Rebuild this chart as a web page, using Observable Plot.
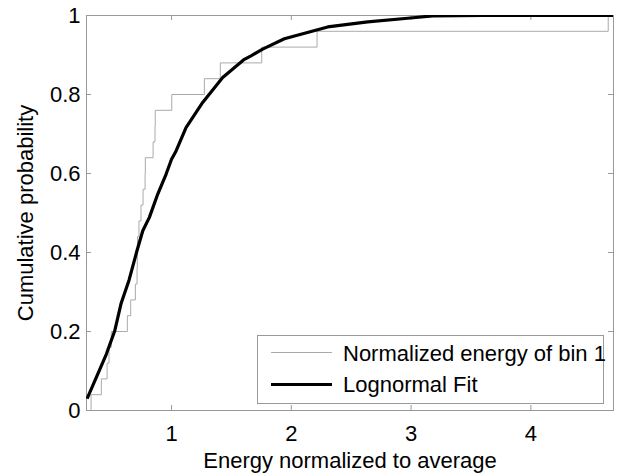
<!DOCTYPE html>
<html>
<head>
<meta charset="utf-8">
<script src="https://cdn.jsdelivr.net/npm/d3@7"></script>
<script src="https://cdn.jsdelivr.net/npm/@observablehq/plot@0.6"></script>
<style>
  html, body { margin: 0; padding: 0; background: #fff; }
  #chart svg { display: block; }
</style>
</head>
<body>
<div id="chart"></div>
<script>
// Normalized energy samples of bin 1 (sorted)
const energyBin1 = [0.328, 0.414, 0.462, 0.478, 0.497, 0.631, 0.659, 0.698, 0.712, 0.714,
                    0.716, 0.728, 0.745, 0.762, 0.779, 0.781, 0.846, 0.862, 0.864, 1.002,
                    1.274, 1.407, 1.753, 2.215, 4.646];

// Lognormal fit CDF, sampled
const fitEnergy = [0.295, 0.372, 0.456, 0.526, 0.578, 0.645, 0.712, 0.760, 0.815, 0.885,
                   0.954, 1.000, 1.038, 1.121, 1.260, 1.427, 1.608, 1.664, 1.761, 1.942,
                   2.304, 2.638, 2.972, 3.180, 3.610, 4.690];
const fitProb   = [0.030, 0.084, 0.143, 0.202, 0.270, 0.330, 0.405, 0.455, 0.489, 0.548,
                   0.598, 0.636, 0.657, 0.716, 0.780, 0.843, 0.889, 0.898, 0.915, 0.941,
                   0.971, 0.984, 0.993, 0.999, 1.000, 1.000];

const xDomain = [0.29, 4.69];
const xTicks = [1, 2, 3, 4];
const xTickLabels = ["1", "2", "3", "4"];
const yTicks = [0, 0.2, 0.4, 0.6, 0.8, 1];
const yTickLabels = ["0", "0.2", "0.4", "0.6", "0.8", "1"];

const seriesNames = ["Normalized energy of bin 1", "Lognormal Fit"];
const xLabel = "Energy normalized to average";
const yLabel = "Cumulative probability";

// Empirical CDF as step-after points
const n = energyBin1.length;
const ecdf = [{x: xDomain[0], y: 0}]
  .concat(energyBin1.map((v, i) => ({x: v, y: (i + 1) / n})))
  .concat([{x: xDomain[1], y: 1}]);
const fit = fitEnergy.map((v, i) => ({x: v, y: fitProb[i]}));

const W = 623, H = 474;
const mL = 86, mR = 10, mT = 15, mB = 64;
const frameW = W - mL - mR, frameH = H - mT - mB;
const tick = 5;
const axisColor = "#999";
const font = "'Liberation Sans', Arial, Helvetica, sans-serif";

const chart = Plot.plot({
  width: W,
  height: H,
  marginLeft: mL, marginRight: mR, marginTop: mT, marginBottom: mB,
  style: {fontFamily: font, fontSize: "22px", color: "#000", background: "#fff"},
  x: {domain: xDomain},
  y: {domain: [0, 1]},
  marks: [
    Plot.frame({stroke: axisColor}),
    // inward ticks on all four sides
    Plot.tickX(xTicks, {x: d => d, stroke: axisColor, insetTop: frameH - tick}),
    Plot.tickX(xTicks, {x: d => d, stroke: axisColor, insetBottom: frameH - tick}),
    Plot.tickY(yTicks, {y: d => d, stroke: axisColor, insetRight: frameW - tick}),
    Plot.tickY(yTicks, {y: d => d, stroke: axisColor, insetLeft: frameW - tick}),
    Plot.axisX(xTicks, {tickSize: 0, tickPadding: 15, fontSize: 22, label: null, fill: "#000",
                        tickFormat: (d, i) => xTickLabels[i]}),
    Plot.axisY(yTicks, {tickSize: 0, tickPadding: 6, fontSize: 22, label: null, fill: "#000",
                        tickFormat: (d, i) => yTickLabels[i]}),
    Plot.line(ecdf, {x: "x", y: "y", curve: "step-after", stroke: "#aaa", strokeWidth: 1, clip: true}),
    Plot.line(fit, {x: "x", y: "y", stroke: "#000", strokeWidth: 3.2, clip: true,
                    strokeLinejoin: "round", strokeLinecap: "butt"}),
    Plot.text([xLabel], {frameAnchor: "bottom", dy: 50, fontSize: 22, fill: "#000",
                         lineAnchor: "middle", textAnchor: "middle"}),
    Plot.text([yLabel], {frameAnchor: "left", dx: -61, rotate: -90, fontSize: 22, fill: "#000",
                         lineAnchor: "middle", textAnchor: "middle"})
  ]
});

// Legend box in the lower right of the axes
const svg = d3.select(chart);
const lg = svg.append("g").attr("font-family", font).attr("font-size", 22).attr("text-anchor", "start");
lg.append("rect").attr("x", 257.5).attr("y", 335.5).attr("width", 346).attr("height", 68)
  .attr("fill", "#fff").attr("stroke", axisColor);
const legendRows = [
  {name: seriesNames[0], stroke: "#aaa", width: 1, y: 352.5, base: 361},
  {name: seriesNames[1], stroke: "#000", width: 3.2, y: 384.5, base: 392}
];
legendRows.forEach(r => {
  lg.append("line").attr("x1", 271).attr("x2", 332).attr("y1", r.y).attr("y2", r.y)
    .attr("stroke", r.stroke).attr("stroke-width", r.width);
  lg.append("text").attr("x", 343).attr("y", r.base).attr("fill", "#000")
    .attr("text-anchor", "start").text(r.name);
});

document.getElementById("chart").appendChild(chart);
</script>
</body>
</html>
